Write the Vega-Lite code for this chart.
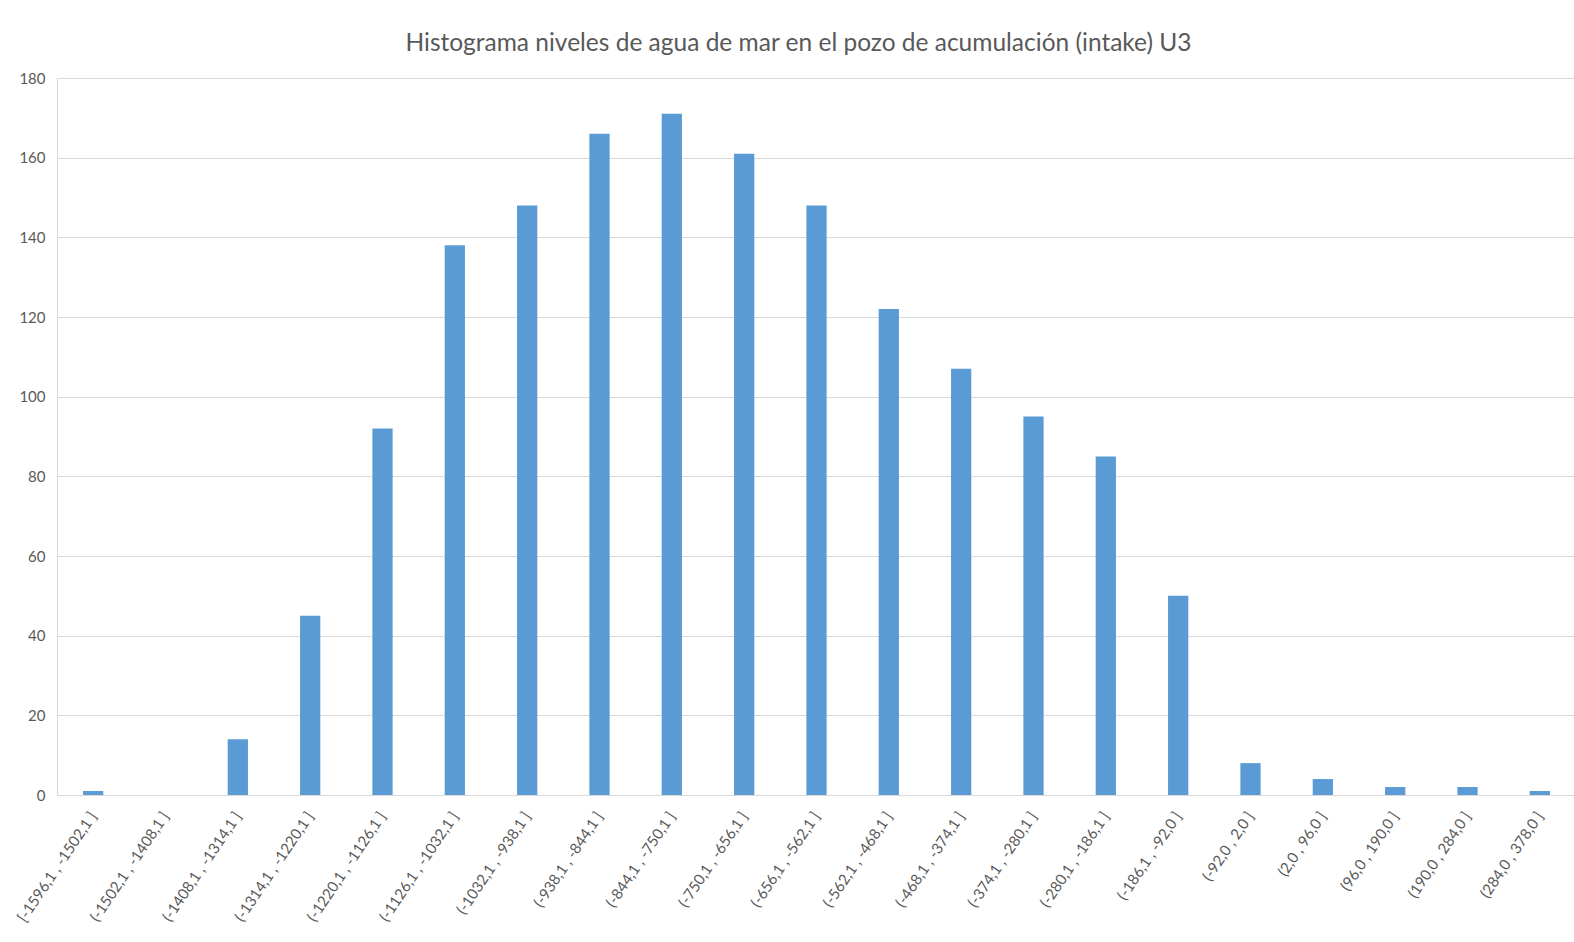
{
  "$schema": "https://vega.github.io/schema/vega-lite/v6.json",
  "width": 1519,
  "height": 717,
  "autosize": {"type": "none"},
  "padding": {"left": 57, "top": 78, "right": 0, "bottom": 147},
  "background": "white",
  "title": {
    "text": "Histograma niveles de agua de mar en el pozo de acumulación (intake) U3",
    "font": "Lato",
    "fontSize": 24.5,
    "fontWeight": "normal",
    "color": "#595959",
    "anchor": "middle",
    "dx": -18,
    "offset": 15
  },
  "data": {
    "values": [
      {"bin": "[-1596,1 , -1502,1 ]", "count": 1},
      {"bin": "(-1502,1 , -1408,1 ]", "count": 0},
      {"bin": "(-1408,1 , -1314,1 ]", "count": 14},
      {"bin": "(-1314,1 , -1220,1 ]", "count": 45},
      {"bin": "(-1220,1 , -1126,1 ]", "count": 92},
      {"bin": "(-1126,1 , -1032,1 ]", "count": 138},
      {"bin": "(-1032,1 , -938,1 ]", "count": 148},
      {"bin": "(-938,1 , -844,1 ]", "count": 166},
      {"bin": "(-844,1 , -750,1 ]", "count": 171},
      {"bin": "(-750,1 , -656,1 ]", "count": 161},
      {"bin": "(-656,1 , -562,1 ]", "count": 148},
      {"bin": "(-562,1 , -468,1 ]", "count": 122},
      {"bin": "(-468,1 , -374,1 ]", "count": 107},
      {"bin": "(-374,1 , -280,1 ]", "count": 95},
      {"bin": "(-280,1 , -186,1 ]", "count": 85},
      {"bin": "(-186,1 , -92,0 ]", "count": 50},
      {"bin": "(-92,0 , 2,0 ]", "count": 8},
      {"bin": "(2,0 , 96,0 ]", "count": 4},
      {"bin": "(96,0 , 190,0 ]", "count": 2},
      {"bin": "(190,0 , 284,0 ]", "count": 2},
      {"bin": "(284,0 , 378,0 ]", "count": 1}
    ]
  },
  "mark": {"type": "bar", "color": "#5B9BD5"},
  "encoding": {
    "x": {
      "field": "bin",
      "type": "nominal",
      "sort": null,
      "title": null,
      "scale": {"paddingInner": 0.72, "paddingOuter": 0.36},
      "axis": {
        "labelAngle": -56,
        "labelFont": "Lato",
        "labelFontSize": 15,
        "labelColor": "#595959",
        "labelPadding": 18,
        "labelLimit": 200,
        "ticks": false,
        "domainColor": "#d9d9d9",
        "domainWidth": 1
      }
    },
    "y": {
      "field": "count",
      "type": "quantitative",
      "title": null,
      "scale": {"domain": [0, 180], "nice": false},
      "axis": {
        "values": [0, 20, 40, 60, 80, 100, 120, 140, 160, 180],
        "labelFont": "Lato",
        "labelFontSize": 15,
        "labelColor": "#595959",
        "labelPadding": 12,
        "ticks": false,
        "domain": true,
        "domainColor": "#d9d9d9",
        "gridColor": "#d9d9d9",
        "gridWidth": 1
      }
    }
  },
  "config": {
    "view": {"stroke": null}
  }
}
